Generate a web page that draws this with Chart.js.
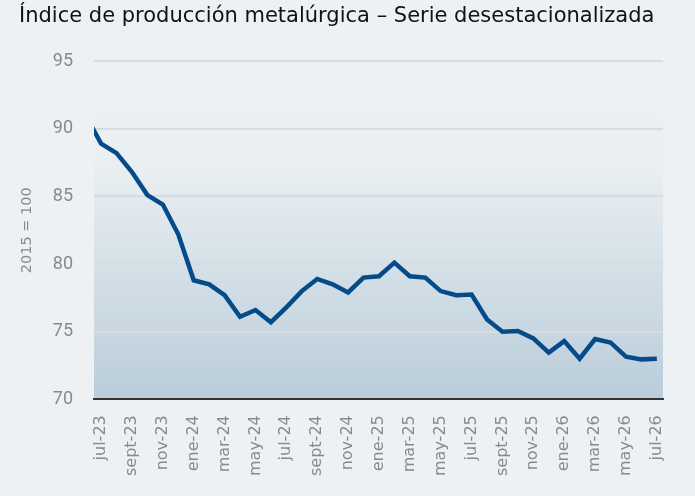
<!DOCTYPE html>
<html>
<head>
<meta charset="utf-8">
<script src="https://cdn.jsdelivr.net/npm/chart.js@4.4.1/dist/chart.umd.min.js"></script>
<style>
  html, body { margin: 0; padding: 0; background: #edf1f3; }
  #wrap { width: 695px; height: 496px; }
</style>
</head>
<body>
<div id="wrap"><canvas id="metal-chart"></canvas></div>
<script>
// monthly series, jun-23 .. jul-26 (first month is cut by the plot edge)
const months = ['jun-23','jul-23','ago-23','sept-23','oct-23','nov-23','dic-23',
  'ene-24','feb-24','mar-24','abr-24','may-24','jun-24','jul-24','ago-24','sept-24','oct-24','nov-24','dic-24',
  'ene-25','feb-25','mar-25','abr-25','may-25','jun-25','jul-25','ago-25','sept-25','oct-25','nov-25','dic-25',
  'ene-26','feb-26','mar-26','abr-26','may-26','jun-26','jul-26'];
const indexValues = [91.0, 88.9, 88.2, 86.8, 85.1, 84.4, 82.2,
  78.8, 78.5, 77.7, 76.1, 76.6, 75.7, 76.8, 78.0, 78.9, 78.5, 77.9, 79.0,
  79.1, 80.1, 79.1, 79.0, 78.0, 77.7, 77.75, 75.9, 75.0, 75.05, 74.5, 73.45,
  74.3, 73.0, 74.45, 74.2, 73.15, 72.95, 73.0];
// every other month gets a label, starting at jul-23
const labelIdx = months.map((m, i) => i).filter(i => i % 2 === 1);
const yTicks = [70, 75, 80, 85, 90, 95];

// plot background gradient
const areaFill = {
    id: 'areaFill',
    beforeDraw(chart){
        const a = chart.chartArea;
        const ctx = chart.ctx;
        const g = ctx.createLinearGradient(0, a.top, 0, a.bottom);
        g.addColorStop(0, 'rgba(237,241,243,1)');
        g.addColorStop(0.3, 'rgba(234,239,242,1)');
        g.addColorStop(1, '#bacddb');
        ctx.save();
        ctx.fillStyle = g;
        ctx.fillRect(a.left, a.top, a.right - a.left, a.bottom - a.top);
        ctx.restore();
    }
};

const ctx = document.getElementById('metal-chart').getContext('2d');
const metalChart = new Chart(ctx, {
    type: 'line',
    data: {
        datasets: [{
            data: indexValues.map((v, i) => ({x: i, y: v})),
            borderColor: '#054b89',
            borderWidth: 4.5,
            pointRadius: 0,
            tension: 0,
            clip: 0
        }]
    },
    options: {
        animation: false,
        responsive: true,
        maintainAspectRatio: false,
        layout: { padding: { left: 19, right: 32, top: 4, bottom: 12 } },
        plugins: {
            legend: { display: false },
            tooltip: { enabled: false },
            title: {
                display: true,
                text: 'Índice de producción metalúrgica – Serie desestacionalizada',
                align: 'start',
                color: '#111',
                font: { family: 'DejaVu Sans', size: 21, weight: 'normal' },
                padding: { top: 0, bottom: 32 }
            }
        },
        scales: {
            x: {
                type: 'linear',
                min: 0.54,
                max: 37.4,
                afterBuildTicks: axis => { axis.ticks = labelIdx.map(v => ({value: v})); },
                ticks: {
                    autoSkip: false,
                    minRotation: 90,
                    maxRotation: 90,
                    padding: 8,
                    color: '#8a8a8a',
                    font: { family: 'DejaVu Sans', size: 16 },
                    callback: v => months[v]
                },
                grid: { display: false },
                border: { display: true, color: '#333', width: 2 }
            },
            y: {
                min: 70,
                max: 95,
                afterBuildTicks: axis => { axis.ticks = yTicks.map(v => ({value: v})); },
                afterFit: axis => { axis.width = 75; },
                ticks: {
                    padding: 21,
                    color: '#8a8a8a',
                    font: { family: 'Roboto', size: 18 }
                },
                title: {
                    display: true,
                    text: '2015 = 100',
                    color: '#8a8a8a',
                    font: { family: 'DejaVu Sans', size: 14.5 },
                    padding: { top: 0, bottom: 0 }
                },
                grid: { color: '#d9dcde', lineWidth: 2, drawTicks: false },
                border: { display: false }
            }
        }
    },
    plugins: [areaFill]
});
</script>
</body>
</html>
